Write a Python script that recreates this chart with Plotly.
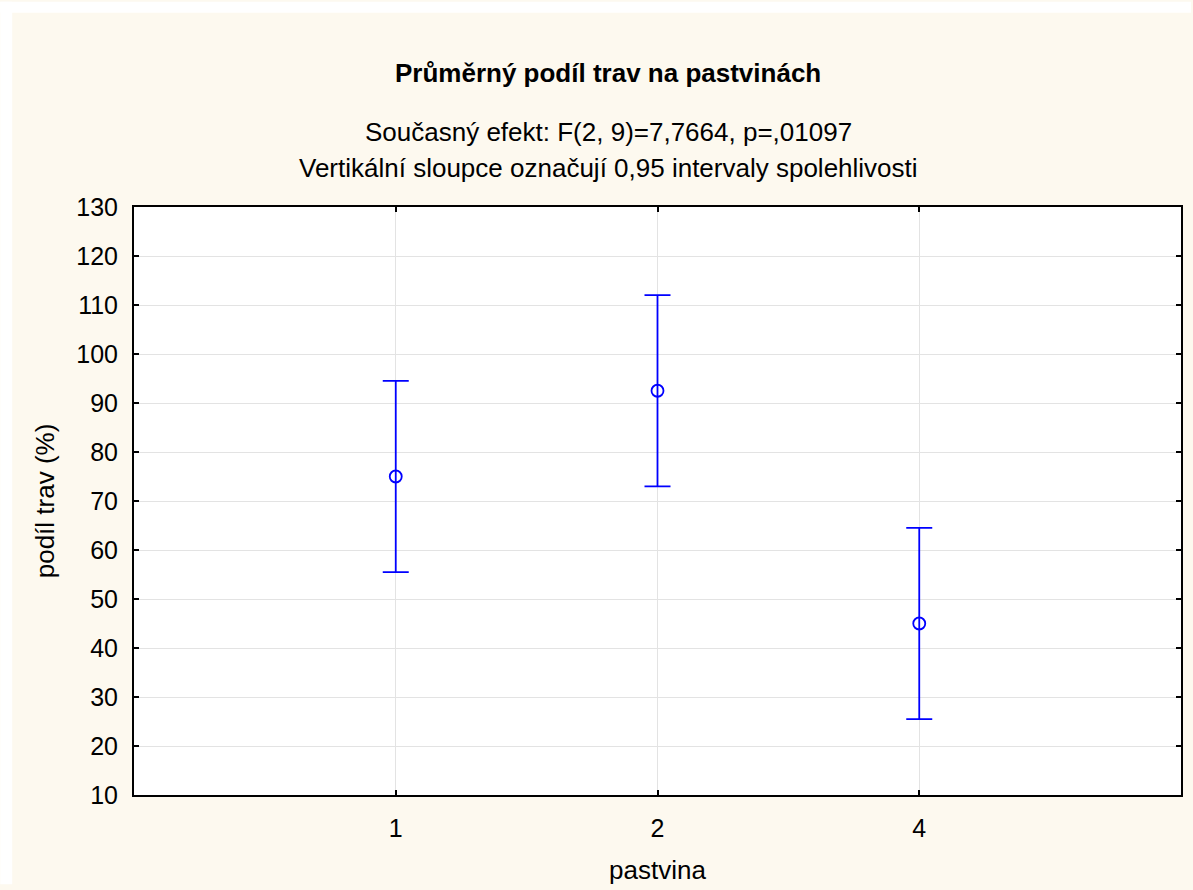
import plotly.graph_objects as go

categories = ["1", "2", "4"]
means = [75.0, 92.5, 45.0]
ci_upper = [94.5, 112.0, 64.5]
ci_lower = [55.5, 73.0, 25.5]

title_text = "Průměrný podíl trav na pastvinách"
subtitle1 = "Současný efekt: F(2, 9)=7,7664, p=,01097"
subtitle2 = "Vertikální sloupce označují 0,95 intervaly spolehlivosti"
x_title = "pastvina"
y_title = "podíl trav (%)"
y_ticks = list(range(10, 131, 10))

err_plus = [u - m for u, m in zip(ci_upper, means)]
err_minus = [m - l for m, l in zip(means, ci_lower)]

W, H = 1193, 890
L, R, T, B = 134, 10, 207, 90
pw, ph = W - L - R, H - T - B

def px_x(p):
    return (p - L) / pw

def px_y(p):
    return (H - B - p) / ph

font = "Liberation Sans, Arial, sans-serif"
cream = "#fdf9ef"
blue = "#0000ff"

fig = go.Figure()
fig.add_trace(go.Scatter(
    x=[0, 1, 2], y=means, mode="markers",
    marker=dict(symbol="circle-open", size=12, color=blue, line=dict(width=1.8, color=blue)),
    error_y=dict(type="data", symmetric=False, array=err_plus, arrayminus=err_minus,
                 color=blue, thickness=1.8, width=13),
    showlegend=False, hoverinfo="skip",
))

fig.update_layout(
    width=W, height=H,
    margin=dict(l=L, r=R, t=T, b=B),
    paper_bgcolor=cream, plot_bgcolor="white",
    font=dict(family=font, color="black", size=26),
    showlegend=False,
)
fig.update_xaxes(
    range=[-1, 3], tickmode="array", tickvals=[0, 1, 2], ticktext=categories,
    showline=True, linecolor="black", linewidth=2, mirror="ticks",
    ticks="inside", ticklen=5, tickwidth=1.5, tickcolor="black",
    showgrid=True, gridcolor="#e3e3e3", gridwidth=1, zeroline=False,
    tickfont=dict(size=25), ticklabelstandoff=10,
    title=dict(text=x_title, font=dict(size=26), standoff=20),
)
fig.update_yaxes(
    range=[10, 130], tickmode="array", tickvals=y_ticks,
    showline=True, linecolor="black", linewidth=2, mirror="ticks",
    ticks="inside", ticklen=5, tickwidth=1.5, tickcolor="black",
    showgrid=True, gridcolor="#e3e3e3", gridwidth=1, zeroline=False,
    tickfont=dict(size=25), ticklabelstandoff=9,
    title=dict(text=y_title, font=dict(size=26), standoff=14),
)

# white outer border strips (top and left)
fig.add_shape(type="rect", xref="paper", yref="paper",
              x0=px_x(0), x1=px_x(W), y0=px_y(0), y1=px_y(11),
              fillcolor="white", line=dict(width=0), layer="above")
fig.add_shape(type="rect", xref="paper", yref="paper",
              x0=px_x(0), x1=px_x(12), y0=px_y(0), y1=px_y(H),
              fillcolor="white", line=dict(width=0), layer="above")

cx = px_x(609)
fig.add_annotation(text="<b>" + title_text + "</b>", xref="paper", yref="paper",
                   x=cx, y=px_y(72), xanchor="center", yanchor="middle",
                   showarrow=False, font=dict(size=26, family=font))
fig.add_annotation(text=subtitle1, xref="paper", yref="paper",
                   x=cx, y=px_y(131), xanchor="center", yanchor="middle",
                   showarrow=False, font=dict(size=26, family=font))
fig.add_annotation(text=subtitle2, xref="paper", yref="paper",
                   x=cx, y=px_y(168), xanchor="center", yanchor="middle",
                   showarrow=False, font=dict(size=26, family=font))

fig.write_html("out.html", config={"displayModeBar": False},
               post_script="document.body.style.margin='0';document.body.style.overflow='hidden';")
